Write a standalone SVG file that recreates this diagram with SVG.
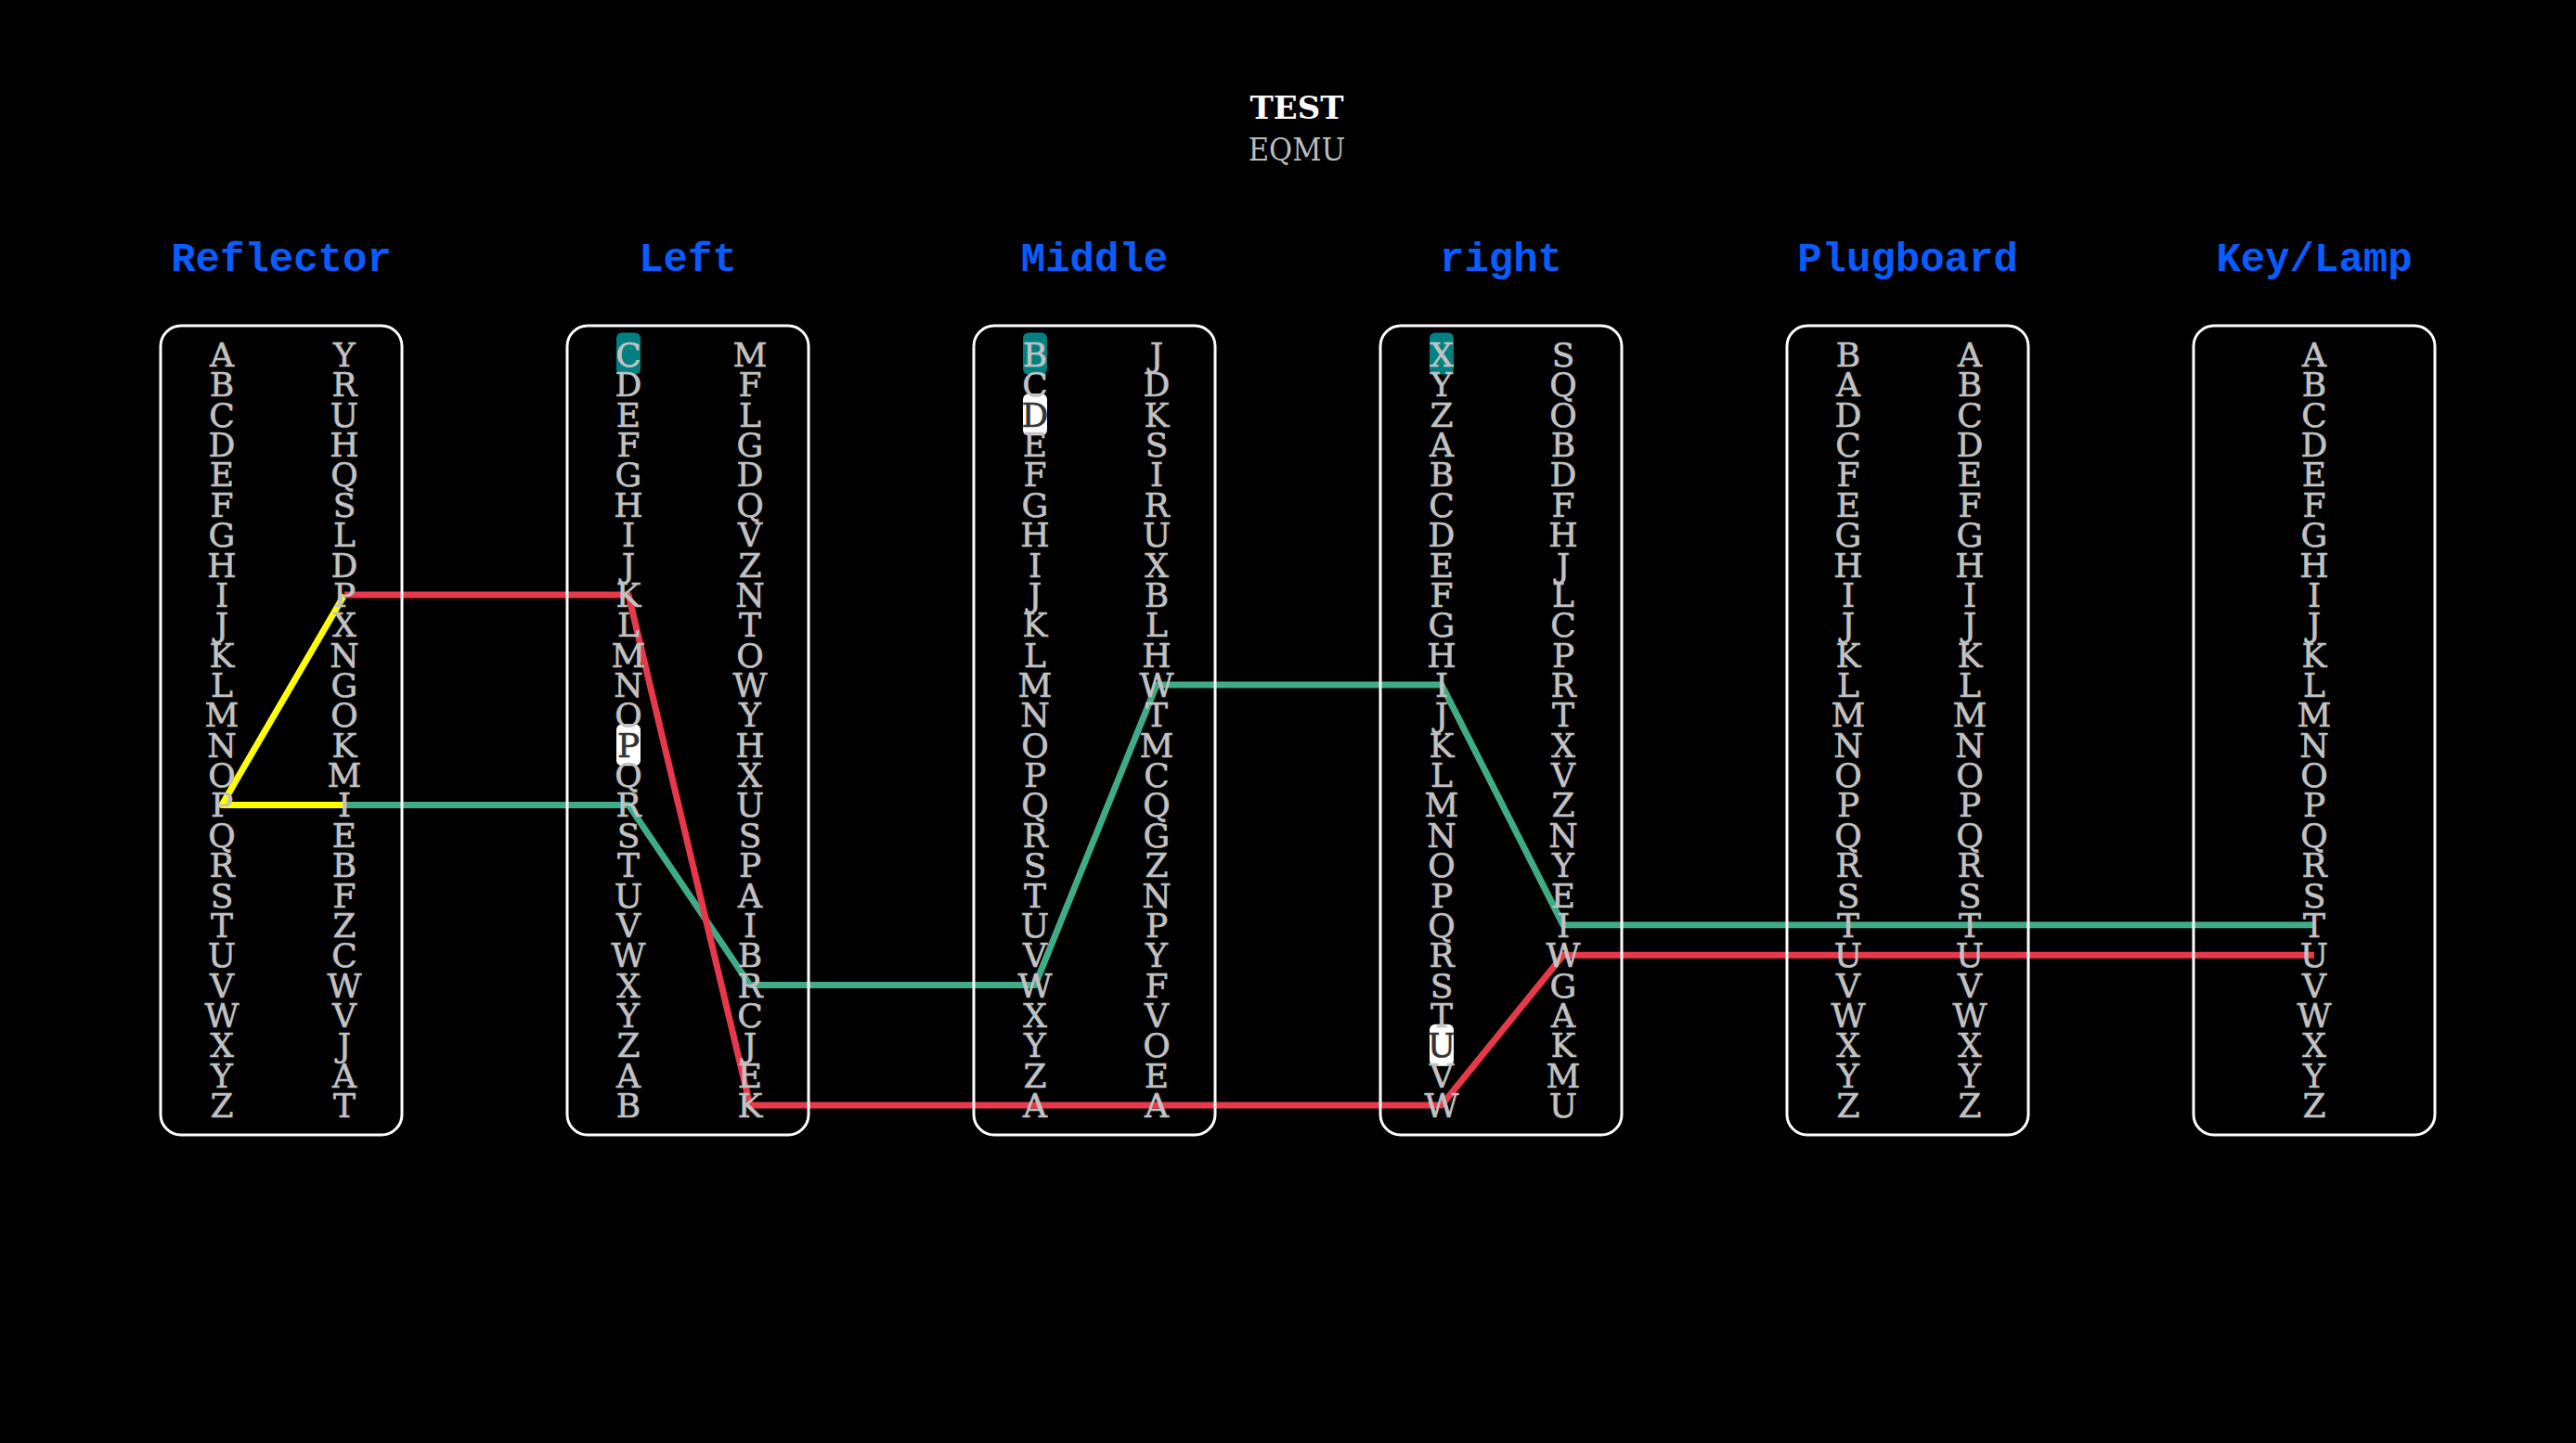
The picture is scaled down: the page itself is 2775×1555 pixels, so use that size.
<svg xmlns="http://www.w3.org/2000/svg" width="2775" height="1555" viewBox="0 0 2775 1555">
<style>
.t{text-anchor:middle}
.sf{font-family:"DejaVu Serif","Liberation Serif",serif}
.cn{font-stretch:condensed}
.mo{font-family:"Liberation Mono","Courier New",monospace}
.ttl{font-size:34px;font-weight:bold;fill:#ffffff}
.sub{font-size:34px;fill:#bdbdbd}
.hd{font-size:44px;font-weight:bold;fill:#0a5cff}
.col{font-size:36px;fill:#c2c2c2;stroke:#c2c2c2;stroke-width:0.6}
.dk{fill:#333333;stroke:#333333}
.box{fill:none;stroke:#ffffff;stroke-width:3}
.win{fill:#008080}
.sel{fill:#ffffff}
.ln{fill:none;stroke-width:7;stroke-linejoin:round;stroke-linecap:butt}
</style>
<rect x="0" y="0" width="2775" height="1555" fill="#000000"/>
<g id="title">
<text class="t sf ttl" x="1397" y="128">TEST</text>
<text class="t sf cn sub" x="1397" y="173">EQMU</text>
</g>
<g id="connectors">
<polyline class="ln" stroke="#3fab88" points="2493,996.8 1684,996.8 1553,738 1246,738 1115,1061.6 808,1061.6 677,867.4 371,867.4"/>
<polyline class="ln" stroke="#ffff00" points="371,867.4 239,867.4 371,640.9"/>
<polyline class="ln" stroke="#e8394a" points="371,640.9 677,640.9 808,1191 1553,1191 1684,1029.2 2493,1029.2"/>
</g>
<g id="reflector">
<text class="t mo hd" x="303" y="292">Reflector</text>
<rect class="box" x="173" y="351" width="260" height="872" rx="22"/>
<text class="t sf col" x="239 239 239 239 239 239 239 239 239 239 239 239 239 239 239 239 239 239 239 239 239 239 239 239 239 239" y="395 427.4 459.7 492.1 524.4 556.8 589.2 621.5 653.9 686.2 718.6 751 783.3 815.7 848 880.4 912.8 945.1 977.5 1009.8 1042.2 1074.6 1106.9 1139.3 1171.6 1204">ABCDEFGHIJKLMNOPQRSTUVWXYZ</text>
<text class="t sf col" x="371 371 371 371 371 371 371 371 371 371 371 371 371 371 371 371 371 371 371 371 371 371 371 371 371 371" y="395 427.4 459.7 492.1 524.4 556.8 589.2 621.5 653.9 686.2 718.6 751 783.3 815.7 848 880.4 912.8 945.1 977.5 1009.8 1042.2 1074.6 1106.9 1139.3 1171.6 1204">YRUHQSLDPXNGOKMIEBFZCWVJAT</text>
</g>
<g id="left">
<text class="t mo hd" x="741" y="292">Left</text>
<rect class="box" x="611" y="351" width="260" height="872" rx="22"/>
<rect class="win" x="664" y="358.5" width="26" height="45" rx="6"/>
<rect class="sel" x="664" y="780.2" width="26" height="45" rx="6"/>
<text class="t sf col" x="677 677 677 677 677 677 677 677 677 677 677 677 677 677 677 677 677 677 677 677 677 677 677 677 677 677" y="395 427.4 459.7 492.1 524.4 556.8 589.2 621.5 653.9 686.2 718.6 751 783.3 815.7 848 880.4 912.8 945.1 977.5 1009.8 1042.2 1074.6 1106.9 1139.3 1171.6 1204">CDEFGHIJKLMNO<tspan class="dk">P</tspan>QRSTUVWXYZAB</text>
<text class="t sf col" x="808 808 808 808 808 808 808 808 808 808 808 808 808 808 808 808 808 808 808 808 808 808 808 808 808 808" y="395 427.4 459.7 492.1 524.4 556.8 589.2 621.5 653.9 686.2 718.6 751 783.3 815.7 848 880.4 912.8 945.1 977.5 1009.8 1042.2 1074.6 1106.9 1139.3 1171.6 1204">MFLGDQVZNTOWYHXUSPAIBRCJEK</text>
</g>
<g id="middle">
<text class="t mo hd" x="1179" y="292">Middle</text>
<rect class="box" x="1049" y="351" width="260" height="872" rx="22"/>
<rect class="win" x="1102" y="358.5" width="26" height="45" rx="6"/>
<rect class="sel" x="1102" y="424.2" width="26" height="45" rx="6"/>
<text class="t sf col" x="1115 1115 1115 1115 1115 1115 1115 1115 1115 1115 1115 1115 1115 1115 1115 1115 1115 1115 1115 1115 1115 1115 1115 1115 1115 1115" y="395 427.4 459.7 492.1 524.4 556.8 589.2 621.5 653.9 686.2 718.6 751 783.3 815.7 848 880.4 912.8 945.1 977.5 1009.8 1042.2 1074.6 1106.9 1139.3 1171.6 1204">BC<tspan class="dk">D</tspan>EFGHIJKLMNOPQRSTUVWXYZA</text>
<text class="t sf col" x="1246 1246 1246 1246 1246 1246 1246 1246 1246 1246 1246 1246 1246 1246 1246 1246 1246 1246 1246 1246 1246 1246 1246 1246 1246 1246" y="395 427.4 459.7 492.1 524.4 556.8 589.2 621.5 653.9 686.2 718.6 751 783.3 815.7 848 880.4 912.8 945.1 977.5 1009.8 1042.2 1074.6 1106.9 1139.3 1171.6 1204">JDKSIRUXBLHWTMCQGZNPYFVOEA</text>
</g>
<g id="right">
<text class="t mo hd" x="1617" y="292">right</text>
<rect class="box" x="1487" y="351" width="260" height="872" rx="22"/>
<rect class="win" x="1540" y="358.5" width="26" height="45" rx="6"/>
<rect class="sel" x="1540" y="1103.8" width="26" height="45" rx="6"/>
<text class="t sf col" x="1553 1553 1553 1553 1553 1553 1553 1553 1553 1553 1553 1553 1553 1553 1553 1553 1553 1553 1553 1553 1553 1553 1553 1553 1553 1553" y="395 427.4 459.7 492.1 524.4 556.8 589.2 621.5 653.9 686.2 718.6 751 783.3 815.7 848 880.4 912.8 945.1 977.5 1009.8 1042.2 1074.6 1106.9 1139.3 1171.6 1204">XYZABCDEFGHIJKLMNOPQRST<tspan class="dk">U</tspan>VW</text>
<text class="t sf col" x="1684 1684 1684 1684 1684 1684 1684 1684 1684 1684 1684 1684 1684 1684 1684 1684 1684 1684 1684 1684 1684 1684 1684 1684 1684 1684" y="395 427.4 459.7 492.1 524.4 556.8 589.2 621.5 653.9 686.2 718.6 751 783.3 815.7 848 880.4 912.8 945.1 977.5 1009.8 1042.2 1074.6 1106.9 1139.3 1171.6 1204">SQOBDFHJLCPRTXVZNYEIWGAKMU</text>
</g>
<g id="plugboard">
<text class="t mo hd" x="2055" y="292">Plugboard</text>
<rect class="box" x="1925" y="351" width="260" height="872" rx="22"/>
<text class="t sf col" x="1991 1991 1991 1991 1991 1991 1991 1991 1991 1991 1991 1991 1991 1991 1991 1991 1991 1991 1991 1991 1991 1991 1991 1991 1991 1991" y="395 427.4 459.7 492.1 524.4 556.8 589.2 621.5 653.9 686.2 718.6 751 783.3 815.7 848 880.4 912.8 945.1 977.5 1009.8 1042.2 1074.6 1106.9 1139.3 1171.6 1204">BADCFEGHIJKLMNOPQRSTUVWXYZ</text>
<text class="t sf col" x="2122 2122 2122 2122 2122 2122 2122 2122 2122 2122 2122 2122 2122 2122 2122 2122 2122 2122 2122 2122 2122 2122 2122 2122 2122 2122" y="395 427.4 459.7 492.1 524.4 556.8 589.2 621.5 653.9 686.2 718.6 751 783.3 815.7 848 880.4 912.8 945.1 977.5 1009.8 1042.2 1074.6 1106.9 1139.3 1171.6 1204">ABCDEFGHIJKLMNOPQRSTUVWXYZ</text>
</g>
<g id="keylamp">
<text class="t mo hd" x="2493" y="292">Key/Lamp</text>
<rect class="box" x="2363" y="351" width="260" height="872" rx="22"/>
<text class="t sf col" x="2493 2493 2493 2493 2493 2493 2493 2493 2493 2493 2493 2493 2493 2493 2493 2493 2493 2493 2493 2493 2493 2493 2493 2493 2493 2493" y="395 427.4 459.7 492.1 524.4 556.8 589.2 621.5 653.9 686.2 718.6 751 783.3 815.7 848 880.4 912.8 945.1 977.5 1009.8 1042.2 1074.6 1106.9 1139.3 1171.6 1204">ABCDEFGHIJKLMNOPQRSTUVWXYZ</text>
</g>
</svg>
